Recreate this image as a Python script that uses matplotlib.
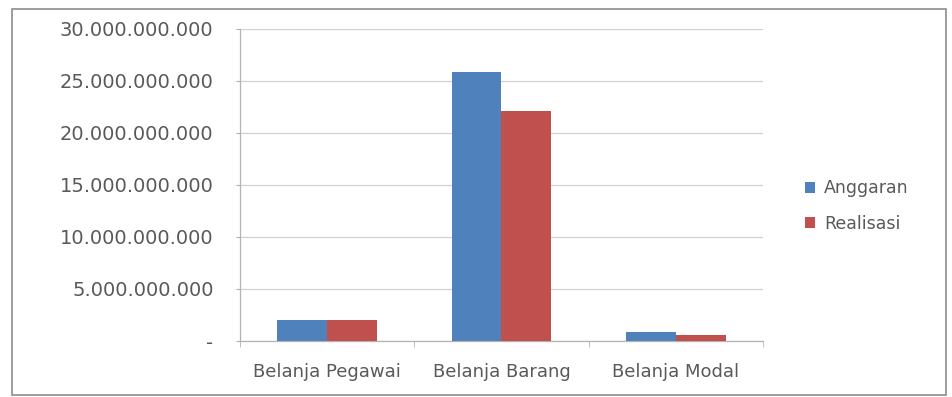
import numpy as np
import matplotlib
matplotlib.use("Agg")
import matplotlib.pyplot as plt
from matplotlib.patches import Rectangle
from matplotlib.ticker import FuncFormatter

categories = ["Belanja Pegawai", "Belanja Barang", "Belanja Modal"]
anggaran = [2.0e9, 25.85e9, 0.87e9]
realisasi = [2.0e9, 22.1e9, 0.62e9]
series_names = ["Anggaran", "Realisasi"]
y_ticks = [0, 5e9, 10e9, 15e9, 20e9, 25e9, 30e9]

BLUE = "#4F81BD"
RED = "#C0504D"
TEXT = "#595959"

plt.rcParams["font.family"] = ["DejaVu Sans"]


def rupiah(v, pos):
    if v == 0:
        return "-"
    return f"{int(v):,}".replace(",", ".")


fig = plt.figure(figsize=(9.53, 3.97), dpi=100)
ax = fig.add_axes([240 / 953, 1 - 341 / 397, 523 / 953, 312 / 397])

x = np.arange(len(categories))
w = 0.286
ax.bar(x - w / 2, anggaran, w, color=BLUE, label=series_names[0], zorder=3)
ax.bar(x + w / 2, realisasi, w, color=RED, label=series_names[1], zorder=3)

ax.set_xlim(-0.5, len(categories) - 0.5)
ax.set_ylim(0, 30e9)
ax.set_yticks(y_ticks)
ax.yaxis.set_major_formatter(FuncFormatter(rupiah))
ax.set_xticks(x)
ax.set_xticklabels(categories)
ax.set_xticks(np.arange(-0.5, len(categories)), minor=True)

ax.grid(axis="y", color="#D0D0D0", linewidth=0.9, zorder=0)
for s in ["top", "right"]:
    ax.spines[s].set_visible(False)
for s in ["left", "bottom"]:
    ax.spines[s].set_color("#B3B3B3")
    ax.spines[s].set_linewidth(0.9)

ax.tick_params(axis="y", length=3, color="#B3B3B3", pad=16,
               labelsize=14, labelcolor=TEXT)
ax.tick_params(axis="x", which="major", length=0, pad=16,
               labelsize=13, labelcolor=TEXT)
ax.tick_params(axis="x", which="minor", length=4, color="#B3B3B3")

leg = ax.legend(loc="center left", bbox_to_anchor=(789 / 953, 1 - 206 / 397),
                bbox_transform=fig.transFigure, frameon=False,
                fontsize=12.5, handlelength=0.62, handleheight=0.62,
                handletextpad=0.5, labelspacing=1.0)
for t in leg.get_texts():
    t.set_color(TEXT)

fig.patches.append(Rectangle((12 / 953, 2 / 397), 934 / 953, 386 / 397,
                             transform=fig.transFigure, fill=False,
                             edgecolor="#8C8C8C", linewidth=1.2))

fig.savefig("out.png", dpi=100)
